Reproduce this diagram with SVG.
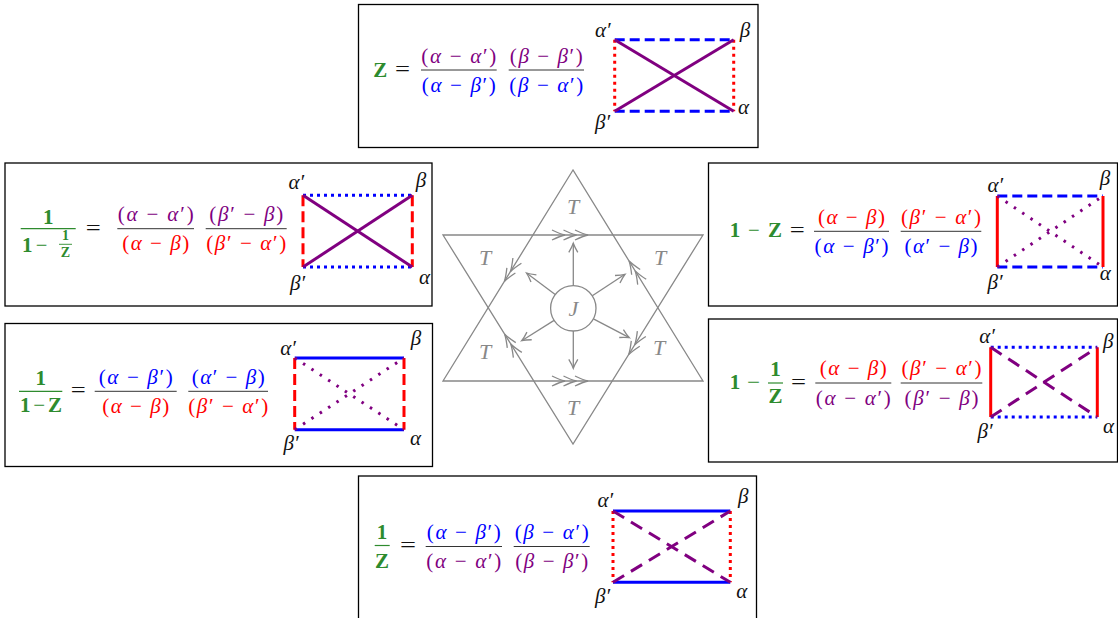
<svg xmlns="http://www.w3.org/2000/svg" xmlns:xlink="http://www.w3.org/1999/xlink" width="1118" height="618" viewBox="0 0 1118 618" font-family="'Liberation Serif', 'DejaVu Serif', serif">
<style>
.box{fill:#fff;stroke:#000;stroke-width:1.3}
text{font-family:"Liberation Serif","DejaVu Serif",serif;font-size:21px}
.fm{text-anchor:middle}
.i{font-style:italic}
.g{fill:#2e8b2e}
.b{font-weight:bold}
.pu{fill:#800080}
.bl{fill:#0000ff}
.rd{fill:#ff0000}
.k{fill:#111}
.bar{stroke:#333;stroke-width:1}
.gbar{stroke:#2e8b2e;stroke-width:1.2}
.lbl{font-style:italic;font-size:21px;fill:#111}
.e{stroke-width:3;fill:none}
.bS{stroke:#0000ff}
.bDa{stroke:#0000ff;stroke-dasharray:10 5}
.bDo{stroke:#0000ff;stroke-dasharray:3 4}
.rS{stroke:#ff0000}
.rDa{stroke:#ff0000;stroke-dasharray:11 5}
.rDo{stroke:#ff0000;stroke-dasharray:3 4}
.pS{stroke:#800080}
.pDa{stroke:#800080;stroke-dasharray:13 8}
.pDo{stroke:#800080;stroke-dasharray:2.5 7.5}
.st{fill:none;stroke:#888;stroke-width:1.3}
.tl{font-style:italic;fill:#888;text-anchor:middle;font-size:22px}
</style>
<defs>
<marker id="ah" markerUnits="userSpaceOnUse" orient="auto" refX="0" refY="0" markerWidth="20" markerHeight="20" overflow="visible">
<path d="M -9 -4.5 Q -3.5 -1.2 0 0 Q -3.5 1.2 -9 4.5" fill="none" stroke="#888" stroke-width="1.3"/>
</marker>
<g id="ch3" fill="none" stroke="#888" stroke-width="1.3">
<path d="M 2 -5 Q 10 -1.2 15 0 Q 10 1.2 2 5"/>
<path d="M -9.5 -5 Q -1.5 -1.2 3.5 0 Q -1.5 1.2 -9.5 5"/>
<path d="M -21 -5 Q -13 -1.2 -8 0 Q -13 1.2 -21 5"/>
</g>
<g id="ch2" fill="none" stroke="#888" stroke-width="1.3">
<path d="M -1 -5 Q 7 -1.2 12 0 Q 7 1.2 -1 5"/>
<path d="M -12.5 -5 Q -4.5 -1.2 0.5 0 Q -4.5 1.2 -12.5 5"/>
</g>
</defs>
<rect width="1118" height="618" fill="#fff"/>

<!-- Top box: Z -->
<g id="box-top">
<rect class="box" x="358.5" y="4.5" width="399.5" height="143"/>
<text class="g b" x="373.3" y="76.5">Z</text>
<text class="k fm" x="402.5" y="75.8" textLength="15" lengthAdjust="spacingAndGlyphs">=</text>
<line class="bar" x1="421" y1="70" x2="496.7" y2="70"/>
<text class="fm pu" x="458.8" y="62.5" textLength="75">(<tspan class="i">α</tspan> − <tspan class="i">α</tspan>′)</text>
<text class="fm bl" x="458.8" y="91.5" textLength="74">(<tspan class="i">α</tspan> − <tspan class="i">β</tspan>′)</text>
<line class="bar" x1="508.7" y1="70" x2="584" y2="70"/>
<text class="fm pu" x="546.3" y="62.5" textLength="73">(<tspan class="i">β</tspan> − <tspan class="i">β</tspan>′)</text>
<text class="fm bl" x="546.3" y="91.5" textLength="74">(<tspan class="i">β</tspan> − <tspan class="i">α</tspan>′)</text>
<line class="e bDa" x1="614.7" y1="39.7" x2="733.7" y2="39.7"/>
<line class="e bDa" x1="614.7" y1="111.3" x2="733.7" y2="111.3"/>
<line class="e rDo" x1="614.7" y1="39.7" x2="614.7" y2="111.3"/>
<line class="e rDo" x1="733.7" y1="39.7" x2="733.7" y2="111.3"/>
<line class="e pS" x1="614.7" y1="39.7" x2="733.7" y2="111.3"/>
<line class="e pS" x1="614.7" y1="111.3" x2="733.7" y2="39.7"/>
<text class="lbl" x="595" y="37.3">α′</text>
<text class="lbl" x="739.7" y="37.2">β</text>
<text class="lbl" x="595" y="128.8">β′</text>
<text class="lbl" x="738" y="114">α</text>
</g>

<!-- Left upper box: 1/(1-1/Z) -->
<g id="box-left-upper">
<rect class="box" x="5" y="163" width="427" height="143"/>
<text class="g b fm" x="48.2" y="224">1</text>
<line class="gbar" x1="20.7" y1="228.7" x2="75.7" y2="228.7"/>
<text class="g b" x="22" y="252">1</text>
<text class="g fm" x="41.5" y="252" textLength="11.6" lengthAdjust="spacingAndGlyphs">−</text>
<text class="g b fm" x="65.5" y="240" style="font-size:14px">1</text>
<line class="gbar" x1="59" y1="244.3" x2="72" y2="244.3" style="stroke-width:0.9"/>
<text class="g b fm" x="65.5" y="257" style="font-size:14px">Z</text>
<text class="k fm" x="93.2" y="234.5" textLength="15" lengthAdjust="spacingAndGlyphs">=</text>
<line class="bar" x1="117.3" y1="228.7" x2="194" y2="228.7"/>
<text class="fm pu" x="155.7" y="221" textLength="76">(<tspan class="i">α</tspan> − <tspan class="i">α</tspan>′)</text>
<text class="fm rd" x="155.7" y="250.2" textLength="67">(<tspan class="i">α</tspan> − <tspan class="i">β</tspan>)</text>
<line class="bar" x1="205.7" y1="228.7" x2="286.7" y2="228.7"/>
<text class="fm pu" x="246.2" y="221" textLength="74">(<tspan class="i">β</tspan>′ − <tspan class="i">β</tspan>)</text>
<text class="fm rd" x="246.2" y="250.2" textLength="80">(<tspan class="i">β</tspan>′ − <tspan class="i">α</tspan>′)</text>
<line class="e bDo" x1="303" y1="195.3" x2="412.3" y2="195.3"/>
<line class="e bDo" x1="303" y1="267" x2="412.3" y2="267"/>
<line class="e rDa" x1="303" y1="195.3" x2="303" y2="267"/>
<line class="e rDa" x1="412.3" y1="195.3" x2="412.3" y2="267"/>
<line class="e pS" x1="303" y1="195.3" x2="412.3" y2="267"/>
<line class="e pS" x1="303" y1="267" x2="412.3" y2="195.3"/>
<text class="lbl" x="288.5" y="188.7">α′</text>
<text class="lbl" x="415.7" y="186.8">β</text>
<text class="lbl" x="290" y="290">β′</text>
<text class="lbl" x="419" y="283.7">α</text>
</g>

<!-- Left lower box: 1/(1-Z) -->
<g id="box-left-lower">
<rect class="box" x="5" y="323.5" width="427.5" height="143"/>
<text class="g b fm" x="40.7" y="384.5">1</text>
<line class="gbar" x1="19" y1="391.3" x2="62.3" y2="391.3"/>
<text class="g fm" x="41" y="412" textLength="42"><tspan class="b">1</tspan>−<tspan class="b">Z</tspan></text>
<text class="k fm" x="78.2" y="397" textLength="15" lengthAdjust="spacingAndGlyphs">=</text>
<line class="bar" x1="94.7" y1="391.3" x2="176.7" y2="391.3"/>
<text class="fm bl" x="135.7" y="383.5" textLength="74">(<tspan class="i">α</tspan> − <tspan class="i">β</tspan>′)</text>
<text class="fm rd" x="135.7" y="412.8" textLength="67">(<tspan class="i">α</tspan> − <tspan class="i">β</tspan>)</text>
<line class="bar" x1="188.3" y1="391.3" x2="268" y2="391.3"/>
<text class="fm bl" x="228.2" y="383.5" textLength="73">(<tspan class="i">α</tspan>′ − <tspan class="i">β</tspan>)</text>
<text class="fm rd" x="228.2" y="412.8" textLength="80">(<tspan class="i">β</tspan>′ − <tspan class="i">α</tspan>′)</text>
<line class="e bS" x1="294.7" y1="358" x2="404" y2="358"/>
<line class="e bS" x1="294.7" y1="429.7" x2="404" y2="429.7"/>
<line class="e rDa" x1="294.7" y1="358" x2="294.7" y2="429.7"/>
<line class="e rDa" x1="404" y1="358" x2="404" y2="429.7"/>
<line class="e pDo" x1="294.7" y1="358" x2="404" y2="429.7"/>
<line class="e pDo" x1="294.7" y1="429.7" x2="404" y2="358"/>
<text class="lbl" x="280.2" y="355.3">α′</text>
<text class="lbl" x="410.7" y="345.2">β</text>
<text class="lbl" x="283.5" y="450">β′</text>
<text class="lbl" x="410" y="445.3">α</text>
</g>

<!-- Right upper box: 1-Z -->
<g id="box-right-upper">
<rect class="box" x="708.5" y="163" width="409" height="143"/>
<text class="g b" x="729.7" y="237.3">1</text>
<text class="g fm" x="753.8" y="237.3" textLength="11.7" lengthAdjust="spacingAndGlyphs">−</text>
<text class="g b" x="768" y="237.3">Z</text>
<text class="k fm" x="797.2" y="237.1" textLength="15" lengthAdjust="spacingAndGlyphs">=</text>
<line class="bar" x1="814" y1="231.3" x2="889" y2="231.3"/>
<text class="fm rd" x="851.5" y="223.6" textLength="67">(<tspan class="i">α</tspan> − <tspan class="i">β</tspan>)</text>
<text class="fm bl" x="851.5" y="252.8" textLength="74">(<tspan class="i">α</tspan> − <tspan class="i">β</tspan>′)</text>
<line class="bar" x1="900.7" y1="231.3" x2="981.3" y2="231.3"/>
<text class="fm rd" x="941" y="223.6" textLength="80">(<tspan class="i">β</tspan>′ − <tspan class="i">α</tspan>′)</text>
<text class="fm bl" x="941" y="252.8" textLength="73">(<tspan class="i">α</tspan>′ − <tspan class="i">β</tspan>)</text>
<line class="e bDa" x1="997.3" y1="196" x2="1103" y2="196"/>
<line class="e bDa" x1="997.3" y1="267" x2="1103" y2="267"/>
<line class="e rS" x1="997.3" y1="196" x2="997.3" y2="267"/>
<line class="e rS" x1="1103" y1="196" x2="1103" y2="267"/>
<line class="e pDo" x1="997.3" y1="196" x2="1103" y2="267"/>
<line class="e pDo" x1="997.3" y1="267" x2="1103" y2="196"/>
<text class="lbl" x="987.5" y="192">α′</text>
<text class="lbl" x="1099.7" y="185">β</text>
<text class="lbl" x="987.5" y="288.5">β′</text>
<text class="lbl" x="1099.7" y="280.3">α</text>
</g>

<!-- Right lower box: 1-1/Z -->
<g id="box-right-lower">
<rect class="box" x="708.5" y="319" width="409" height="143"/>
<text class="g b" x="729.7" y="388.7">1</text>
<text class="g fm" x="753.5" y="388.7" textLength="13" lengthAdjust="spacingAndGlyphs">−</text>
<text class="g b fm" x="775.5" y="375.5">1</text>
<line class="gbar" x1="768" y1="383" x2="783" y2="383"/>
<text class="g b fm" x="775.5" y="403">Z</text>
<text class="k fm" x="798.5" y="388.8" textLength="15" lengthAdjust="spacingAndGlyphs">=</text>
<line class="bar" x1="815.3" y1="383" x2="891.3" y2="383"/>
<text class="fm rd" x="853.3" y="375.3" textLength="67">(<tspan class="i">α</tspan> − <tspan class="i">β</tspan>)</text>
<text class="fm pu" x="853.3" y="404.5" textLength="75">(<tspan class="i">α</tspan> − <tspan class="i">α</tspan>′)</text>
<line class="bar" x1="900.7" y1="383" x2="982.3" y2="383"/>
<text class="fm rd" x="941.5" y="375.3" textLength="80">(<tspan class="i">β</tspan>′ − <tspan class="i">α</tspan>′)</text>
<text class="fm pu" x="941.5" y="404.5" textLength="74">(<tspan class="i">β</tspan>′ − <tspan class="i">β</tspan>)</text>
<line class="e bDo" x1="990.7" y1="347.3" x2="1097.3" y2="347.3"/>
<line class="e bDo" x1="990.7" y1="417" x2="1097.3" y2="417"/>
<line class="e rS" x1="990.7" y1="347.3" x2="990.7" y2="417"/>
<line class="e rS" x1="1097.3" y1="347.3" x2="1097.3" y2="417"/>
<line class="e pDa" x1="990.7" y1="347.3" x2="1097.3" y2="417"/>
<line class="e pDa" x1="990.7" y1="417" x2="1097.3" y2="347.3"/>
<text class="lbl" x="979.2" y="343">α′</text>
<text class="lbl" x="1103" y="347.8">β</text>
<text class="lbl" x="977.5" y="437.8">β′</text>
<text class="lbl" x="1103" y="433">α</text>
</g>

<!-- Bottom box: 1/Z -->
<g id="box-bottom">
<rect class="box" x="358.5" y="476" width="398" height="150"/>
<text class="g b fm" x="382" y="539">1</text>
<line class="gbar" x1="374.7" y1="545.5" x2="389.7" y2="545.5"/>
<text class="g b fm" x="382" y="567.5">Z</text>
<text class="k fm" x="408" y="552.2" textLength="16" lengthAdjust="spacingAndGlyphs">=</text>
<line class="bar" x1="425.7" y1="546.5" x2="502" y2="546.5"/>
<text class="fm bl" x="463.8" y="538.8" textLength="74">(<tspan class="i">α</tspan> − <tspan class="i">β</tspan>′)</text>
<text class="fm pu" x="463.8" y="568" textLength="75">(<tspan class="i">α</tspan> − <tspan class="i">α</tspan>′)</text>
<line class="bar" x1="513.7" y1="546.5" x2="589.7" y2="546.5"/>
<text class="fm bl" x="551.7" y="538.8" textLength="74">(<tspan class="i">β</tspan> − <tspan class="i">α</tspan>′)</text>
<text class="fm pu" x="551.7" y="568" textLength="73">(<tspan class="i">β</tspan> − <tspan class="i">β</tspan>′)</text>
<line class="e bS" x1="613" y1="511" x2="730.3" y2="511"/>
<line class="e bS" x1="613" y1="582.3" x2="730.3" y2="582.3"/>
<line class="e rDo" x1="613" y1="511" x2="613" y2="582.3"/>
<line class="e rDo" x1="730.3" y1="511" x2="730.3" y2="582.3"/>
<line class="e pDa" x1="613" y1="511" x2="730.3" y2="582.3"/>
<line class="e pDa" x1="613" y1="582.3" x2="730.3" y2="511"/>
<text class="lbl" x="597.5" y="506.7">α′</text>
<text class="lbl" x="738" y="503.2">β</text>
<text class="lbl" x="595" y="603.2">β′</text>
<text class="lbl" x="736.3" y="598.3">α</text>
</g>

<!-- Central star -->
<g id="star">
<polygon class="st" points="573,170 443,381 703,381"/>
<polygon class="st" points="443,235 703,235 573,444"/>
<use xlink:href="#ch3" transform="translate(573,235)"/>
<use xlink:href="#ch3" transform="translate(573,381)"/>
<use xlink:href="#ch2" transform="translate(510.6,271.3) rotate(121.6)"/>
<use xlink:href="#ch2" transform="translate(635.4,271.3) rotate(-121.6)"/>
<use xlink:href="#ch2" transform="translate(511,344.4) rotate(-121.9)"/>
<use xlink:href="#ch2" transform="translate(635,344.4) rotate(121.9)"/>
<text class="tl" x="573" y="213.5">T</text>
<text class="tl" x="485" y="265.2">T</text>
<text class="tl" x="660" y="265.2">T</text>
<text class="tl" x="485" y="358.5">T</text>
<text class="tl" x="659" y="355.2">T</text>
<text class="tl" x="573" y="415.2">T</text>
</g>
<g id="node-J">
<circle class="st" cx="573.3" cy="308.3" r="22.7"/>
<text class="tl" x="573.3" y="315.5">J</text>
</g>

<g id="connectors" class="st">
<line x1="573.3" y1="285.6" x2="573.3" y2="243.3" marker-end="url(#ah)"/>
<line x1="573.3" y1="331" x2="573.3" y2="368.3" marker-end="url(#ah)"/>
<line x1="555.2" y1="294.6" x2="526.5" y2="273" marker-end="url(#ah)"/>
<line x1="592.3" y1="295.8" x2="625" y2="274.3" marker-end="url(#ah)"/>
<line x1="554.1" y1="320.4" x2="521.7" y2="340.7" marker-end="url(#ah)"/>
<line x1="593.4" y1="318.9" x2="629.3" y2="337.7" marker-end="url(#ah)"/>
</g>
</svg>
